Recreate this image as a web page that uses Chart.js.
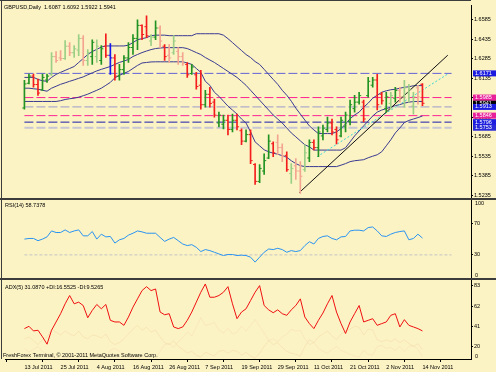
<!DOCTYPE html>
<html>
<head>
<meta charset="utf-8">
<script src="https://cdn.jsdelivr.net/npm/chart.js@4.4.1/dist/chart.umd.min.js"></script>
<style>
  html, body { margin: 0; padding: 0; background: #fbf3c4; }
  canvas { display: block; }
</style>
</head>
<body>
<canvas id="grafico" width="496" height="372"></canvas>
<script>
// GBPUSD diario, 13 Jul 2011 - 14 Nov 2011 (um valor por barra)
const abertura = [
  1.5905, 1.6095, 1.6150, 1.6085, 1.6045, 1.6120, 1.6160, 1.6300, 1.6290, 1.6285,
  1.6380, 1.6330, 1.6350, 1.6440, 1.6270, 1.6300, 1.6300, 1.6270, 1.6380, 1.6310,
  1.6290, 1.6150, 1.6200, 1.6290, 1.6370, 1.6440, 1.6540, 1.6530, 1.6420, 1.6450,
  1.6520, 1.6380, 1.6310, 1.6330, 1.6340, 1.6300, 1.6240, 1.6170, 1.6160, 1.6080,
  1.5930, 1.6010, 1.5950, 1.5790, 1.5780, 1.5810, 1.5740, 1.5810, 1.5730, 1.5650,
  1.5700, 1.5470, 1.5340, 1.5420, 1.5520, 1.5630, 1.5640, 1.5600, 1.5540, 1.5400,
  1.5460, 1.5420, 1.5430, 1.5520, 1.5640, 1.5600, 1.5690, 1.5740, 1.5790, 1.5740,
  1.5690, 1.5760, 1.5800, 1.5900, 1.5950, 1.5950, 1.6000, 1.6080, 1.6120, 1.6010,
  1.5900, 1.5940, 1.5980, 1.6040, 1.5990, 1.6020, 1.5920, 1.6060, 1.6087
]
const maxima = [
  1.6118, 1.6166, 1.6166, 1.6127, 1.6166, 1.6166, 1.6331, 1.6339, 1.6347, 1.6423,
  1.6408, 1.6385, 1.6469, 1.6461, 1.6354, 1.6430, 1.6430, 1.6385, 1.6476, 1.6400,
  1.6316, 1.6240, 1.6308, 1.6408, 1.6469, 1.6583, 1.6545, 1.6614, 1.6469, 1.6575,
  1.6537, 1.6392, 1.6392, 1.6461, 1.6369, 1.6331, 1.6255, 1.6240, 1.6179, 1.6194,
  1.6041, 1.6064, 1.5973, 1.5873, 1.5851, 1.5851, 1.5858, 1.5858, 1.5744, 1.5736,
  1.5736, 1.5477, 1.5470, 1.5553, 1.5698, 1.5644, 1.5698, 1.5629, 1.5568, 1.5477,
  1.5515, 1.5492, 1.5622, 1.5660, 1.5660, 1.5759, 1.5774, 1.5835, 1.5820, 1.5759,
  1.5835, 1.5873, 1.5965, 1.6003, 1.6026, 1.5965, 1.6140, 1.6140, 1.6163, 1.6026,
  1.6026, 1.6026, 1.6064, 1.6064, 1.6118, 1.6087, 1.6026, 1.6079, 1.6092
]
const minima = [
  1.5896, 1.6089, 1.6064, 1.6001, 1.6039, 1.6102, 1.6156, 1.6255, 1.6270, 1.6278,
  1.6308, 1.6293, 1.6308, 1.6232, 1.6232, 1.6240, 1.6255, 1.6240, 1.6293, 1.6163,
  1.6118, 1.6118, 1.6163, 1.6255, 1.6316, 1.6354, 1.6430, 1.6446, 1.6385, 1.6430,
  1.6369, 1.6270, 1.6255, 1.6316, 1.6240, 1.6232, 1.6140, 1.6163, 1.6049, 1.5896,
  1.5911, 1.5911, 1.5835, 1.5759, 1.5744, 1.5698, 1.5721, 1.5736, 1.5622, 1.5644,
  1.5477, 1.5317, 1.5330, 1.5393, 1.5515, 1.5530, 1.5545, 1.5492, 1.5416, 1.5324,
  1.5355, 1.5248, 1.5416, 1.5492, 1.5583, 1.5530, 1.5660, 1.5721, 1.5698, 1.5629,
  1.5683, 1.5721, 1.5774, 1.5873, 1.5934, 1.5797, 1.5988, 1.6064, 1.5889, 1.5934,
  1.5873, 1.5896, 1.5950, 1.5950, 1.5911, 1.5950, 1.5858, 1.5934, 1.5922
]
const fechamento = [
  1.6090, 1.6150, 1.6085, 1.6020, 1.6140, 1.6150, 1.6300, 1.6270, 1.6285, 1.6380,
  1.6330, 1.6360, 1.6440, 1.6270, 1.6330, 1.6410, 1.6380, 1.6360, 1.6310, 1.6290,
  1.6150, 1.6200, 1.6290, 1.6370, 1.6440, 1.6540, 1.6470, 1.6460, 1.6450, 1.6520,
  1.6420, 1.6300, 1.6290, 1.6420, 1.6300, 1.6250, 1.6160, 1.6220, 1.6070, 1.5930,
  1.6010, 1.5940, 1.5850, 1.5850, 1.5810, 1.5740, 1.5810, 1.5760, 1.5650, 1.5700,
  1.5500, 1.5340, 1.5440, 1.5500, 1.5650, 1.5560, 1.5600, 1.5530, 1.5430, 1.5440,
  1.5420, 1.5380, 1.5560, 1.5640, 1.5600, 1.5720, 1.5750, 1.5790, 1.5720, 1.5660,
  1.5810, 1.5850, 1.5930, 1.5950, 1.6000, 1.5820, 1.6110, 1.6120, 1.5930, 1.5960,
  1.5990, 1.6000, 1.6040, 1.5990, 1.6060, 1.6050, 1.5990, 1.5990, 1.5941
]
// G verde, R vermelho, g verde claro, r vermelho claro, B azul
const tipo_barra = ('GGRRGGgrrg' + 'rggrgGgGRB' + 'RGGGGGRRgG' + 'rRrgrrRGRR' + 'GRRGGRGRRG' +
                    'RRGGGRrrRg' + 'rrgGRGGGRR' + 'GGGGGRGGRR' + 'GgGrgggrR').split('')

// as tres linhas azul-marinho do painel de preco
const faixa_a = [
  1.6140, 1.6140, 1.6140, 1.6125, 1.6114, 1.6110, 1.6140, 1.6163, 1.6179, 1.6194,
  1.6209, 1.6224, 1.6255, 1.6285, 1.6316, 1.6339, 1.6356, 1.6373, 1.6382, 1.6382,
  1.6382, 1.6382, 1.6382, 1.6388, 1.6408, 1.6430, 1.6438, 1.6446, 1.6461, 1.6465,
  1.6465, 1.6465, 1.6461, 1.6461, 1.6461, 1.6461, 1.6461, 1.6461, 1.6476, 1.6476,
  1.6476, 1.6476, 1.6476, 1.6476, 1.6465, 1.6438, 1.6408, 1.6377, 1.6347, 1.6316,
  1.6293, 1.6262, 1.6240, 1.6202, 1.6163, 1.6125, 1.6087, 1.6041, 1.6003, 1.5957,
  1.5904, 1.5858, 1.5812, 1.5767, 1.5736, 1.5708, 1.5708, 1.5708, 1.5708, 1.5721,
  1.5746, 1.5782, 1.5822, 1.5851, 1.5873, 1.5911, 1.5942, 1.5980, 1.6003, 1.6026,
  1.6037, 1.6045, 1.6049, 1.6057, 1.6064, 1.6068, 1.6076, 1.6077, 1.6077
]
const faixa_b = [
  1.6057, 1.6057, 1.6053, 1.6049, 1.6041, 1.6034, 1.6057, 1.6072, 1.6087, 1.6098,
  1.6110, 1.6121, 1.6133, 1.6144, 1.6160, 1.6175, 1.6190, 1.6202, 1.6213, 1.6224,
  1.6240, 1.6255, 1.6266, 1.6278, 1.6301, 1.6316, 1.6331, 1.6343, 1.6354, 1.6362,
  1.6366, 1.6369, 1.6369, 1.6369, 1.6369, 1.6369, 1.6362, 1.6347, 1.6331, 1.6316,
  1.6293, 1.6274, 1.6255, 1.6232, 1.6209, 1.6186, 1.6163, 1.6140, 1.6110, 1.6079,
  1.6041, 1.6003, 1.5965, 1.5927, 1.5889, 1.5851, 1.5820, 1.5789, 1.5751, 1.5713,
  1.5683, 1.5652, 1.5622, 1.5606, 1.5581, 1.5581, 1.5581, 1.5581, 1.5581, 1.5581,
  1.5581, 1.5599, 1.5644, 1.5690, 1.5728, 1.5767, 1.5805, 1.5843, 1.5873, 1.5889,
  1.5900, 1.5911, 1.5923, 1.5931, 1.5942, 1.5950, 1.5954, 1.5955, 1.5955
]
const faixa_c = [
  1.5955, 1.5955, 1.5955, 1.5955, 1.5955, 1.5955, 1.5955, 1.5955, 1.5961, 1.5970,
  1.5976, 1.5980, 1.5988, 1.5999, 1.6011, 1.6026, 1.6041, 1.6057, 1.6079, 1.6102,
  1.6137, 1.6156, 1.6171, 1.6186, 1.6209, 1.6232, 1.6251, 1.6255, 1.6259, 1.6260,
  1.6260, 1.6260, 1.6260, 1.6260, 1.6260, 1.6260, 1.6251, 1.6240, 1.6209, 1.6179,
  1.6110, 1.6079, 1.6026, 1.5995, 1.5957, 1.5919, 1.5889, 1.5858, 1.5820, 1.5789,
  1.5721, 1.5644, 1.5614, 1.5583, 1.5568, 1.5557, 1.5549, 1.5538, 1.5526, 1.5499,
  1.5477, 1.5461, 1.5454, 1.5454, 1.5454, 1.5454, 1.5454, 1.5454, 1.5454, 1.5454,
  1.5465, 1.5477, 1.5492, 1.5499, 1.5503, 1.5507, 1.5522, 1.5534, 1.5545, 1.5568,
  1.5614, 1.5660, 1.5713, 1.5751, 1.5793, 1.5809, 1.5820, 1.5831, 1.5843
]

// linhas desenhadas a mao
const niveis = [1.6171, 1.5985, 1.5913, 1.5846, 1.5796, 1.5753]
const tendencia_x = [60.8, 93.6]
const tendencia_y = [1.5255, 1.6311]
const canal_x = [64.7, 93.6]
const canal_y = [1.5530, 1.6166]

const rsi = [
  49.9, 50.7, 50.7, 47.9, 49.9, 52.7, 60.2, 58.2, 58.2, 61.5,
  58.2, 60.2, 61.5, 54.0, 54.0, 59.4, 49.9, 56.1, 52.7, 53.2,
  44.9, 49.0, 50.7, 54.9, 57.3, 60.2, 59.0, 57.3, 57.3, 57.3,
  52.0, 47.0, 49.9, 52.0, 47.9, 43.7, 41.7, 42.9, 39.6, 34.2,
  36.7, 35.4, 33.3, 31.2, 29.2, 30.5, 30.5, 29.2, 29.6, 29.2,
  27.1, 20.9, 27.1, 33.3, 37.4, 36.7, 38.3, 36.7, 33.3, 35.4,
  34.2, 35.4, 41.7, 46.6, 43.7, 50.7, 53.2, 54.0, 50.7, 49.0,
  52.7, 53.2, 60.2, 61.1, 61.1, 60.2, 64.4, 65.2, 60.2, 54.0,
  53.2, 56.1, 58.2, 59.4, 60.2, 49.0, 50.7, 56.1, 51.2
]
const niveis_rsi = [30]

const adx = [
  38.6, 41.0, 36.2, 36.9, 30.0, 22.4, 36.9, 45.5, 54.1, 64.4,
  73.0, 64.4, 66.1, 62.6, 49.9, 57.5, 63.7, 59.2, 63.7, 47.2,
  45.5, 45.5, 42.0, 50.6, 60.9, 69.5, 78.1, 82.2, 78.1, 79.8,
  55.8, 53.0, 54.1, 40.3, 38.6, 40.3, 47.2, 55.8, 66.1, 76.4,
  85.0, 71.2, 71.2, 73.0, 76.4, 82.2, 64.4, 48.9, 55.8, 59.2,
  67.8, 76.4, 83.3, 62.6, 58.1, 55.1, 58.1, 54.1, 52.4, 58.1,
  62.6, 69.5, 50.6, 43.8, 38.6, 47.2, 54.8, 64.4, 73.0, 55.8,
  43.8, 33.5, 45.5, 54.1, 62.6, 45.5, 47.2, 48.9, 42.0, 43.8,
  45.5, 52.4, 54.1, 40.3, 47.9, 42.0, 40.3, 38.6, 36.2
]
const mais_di = [
  28, 30, 26, 22, 27, 30, 38, 35, 32, 36, 33, 31, 36, 30, 28, 32, 31, 29, 33, 25,
  22, 24, 28, 33, 38, 42, 37, 40, 35, 37, 30, 24, 22, 26, 20, 17, 13, 15, 11, 9,
  14, 12, 10, 15, 16, 13, 16, 15, 11, 14, 10, 8, 13, 20, 26, 22, 24, 19, 15, 13,
  12, 10, 20, 27, 24, 30, 33, 36, 31, 27, 33, 36, 38, 41, 40, 32, 38, 37, 27, 25,
  27, 25, 28, 24, 27, 23, 20, 23, 16.6
]
const menos_di = [
  18, 14, 17, 20, 15, 12, 9, 8, 10, 8, 9, 11, 8, 12, 13, 10, 11, 12, 9, 16,
  18, 15, 12, 10, 8, 6, 10, 9, 11, 8, 15, 22, 23, 19, 25, 29, 35, 31, 40, 50,
  42, 43, 45, 37, 34, 39, 33, 35, 41, 36, 42, 48, 41, 34, 26, 28, 25, 30, 33, 38,
  36, 37, 28, 22, 24, 18, 15, 13, 17, 20, 16, 14, 12, 10, 9, 16, 12, 11, 20, 21,
  18, 19, 16, 20, 15, 20, 21, 17, 9.5
]

const idx_datas = [0, 8, 16, 24, 32, 40, 48, 56, 64, 72, 80, 88]
const rotulos_datas = ['13 Jul 2011', '25 Jul 2011', '4 Aug 2011', '16 Aug 2011', '26 Aug 2011', '7 Sep 2011',
                       '19 Sep 2011', '29 Sep 2011', '11 Oct 2011', '21 Oct 2011', '2 Nov 2011', '14 Nov 2011']
const ticks_preco = [1.5235, 1.5385, 1.5535, 1.5685, 1.5835, 1.5985, 1.6135, 1.6285, 1.6435, 1.6585]
const ticks_rsi = [30, 70]
const ticks_adx = [20, 41, 62, 83]

// ---- estilo ----
const x_min = 0
const x_max = 94.44
const fonte = { family: '"Liberation Sans", Arial, sans-serif', size: 5.5 }
const fonte_css = '5.5px "Liberation Sans", Arial, sans-serif'
const cor_de = { G: '#229322', R: '#f41c1c', g: '#9ccf86', r: '#f3a592', B: '#1616f0' }
const cores = tipo_barra.map(t => cor_de[t])
const cores_niveis = ['#6262d6', '#ff2496', '#9a9acc', '#ff2496', '#1c1cac', '#c6c6d4']
const largura_niveis = [1, 1, 1, 1, 1, 2]
const caixas_niveis = ['#1c1ce0', '#e8209a', '#1c1ce0', '#e8209a', '#1c1ce0', '#2a2ad8']

const pontos = (arr, dx) => arr.map((v, i) => ({ x: i + (dx || 0), y: v }))
const horizontal = (v) => [{ x: x_min, y: v }, { x: x_max, y: v }]

let datasets = []

niveis.forEach((v, k) => {
  datasets.push({
    type: 'line', data: horizontal(v), yAxisID: 'y',
    borderColor: cores_niveis[k], borderWidth: largura_niveis[k], borderDash: [9, 3],
    pointRadius: 0, order: 20
  })
})

;[faixa_a, faixa_b, faixa_c].forEach(f => {
  datasets.push({
    type: 'line', data: pontos(f), yAxisID: 'y',
    borderColor: '#3a3a92', borderWidth: 1, pointRadius: 0, tension: 0, order: 10
  })
})

datasets.push({
  type: 'line', data: tendencia_x.map((x, k) => ({ x: x, y: tendencia_y[k] })), yAxisID: 'y',
  borderColor: '#111', borderWidth: 1, pointRadius: 0, order: 9
})
datasets.push({
  type: 'line', data: canal_x.map((x, k) => ({ x: x, y: canal_y[k] })), yAxisID: 'y',
  borderColor: '#3cd6d6', borderWidth: 1, borderDash: [2, 2], pointRadius: 0, order: 9
})

// barras OHLC: haste maxima-minima + tracinho de abertura (esq.) e fechamento (dir.)
datasets.push({
  type: 'bar', data: maxima.map((h, i) => ({ x: i, y: [minima[i], h] })), yAxisID: 'y',
  backgroundColor: cores, barThickness: 1, order: 2
})
datasets.push({
  type: 'line', data: pontos(abertura, -0.22), yAxisID: 'y', showLine: false,
  pointStyle: 'line', pointRadius: 1.1, pointBorderWidth: 1, pointBorderColor: cores, order: 1
})
datasets.push({
  type: 'line', data: pontos(fechamento, 0.22), yAxisID: 'y', showLine: false,
  pointStyle: 'line', pointRadius: 1.1, pointBorderWidth: 1, pointBorderColor: cores, order: 1
})

// RSI
niveis_rsi.forEach(v => {
  datasets.push({
    type: 'line', data: horizontal(v), yAxisID: 'yR',
    borderColor: '#c4c4c4', borderWidth: 1, borderDash: [3, 2], pointRadius: 0, order: 5
  })
})
datasets.push({
  type: 'line', data: pontos(rsi), yAxisID: 'yR',
  borderColor: '#2b94f2', borderWidth: 1, pointRadius: 0, order: 3
})

// ADX
datasets.push({
  type: 'line', data: pontos(mais_di), yAxisID: 'yA',
  borderColor: 'rgba(240,175,130,0.2)', borderWidth: 1, pointRadius: 0, order: 6
})
datasets.push({
  type: 'line', data: pontos(menos_di), yAxisID: 'yA',
  borderColor: 'rgba(245,190,160,0.2)', borderWidth: 1, pointRadius: 0, order: 6
})
datasets.push({
  type: 'line', data: pontos(adx), yAxisID: 'yA',
  borderColor: '#f01010', borderWidth: 1, pointRadius: 0, order: 3
})

const ultimo = fechamento.length - 1
const titulo = 'GBPUSD,Daily  ' + [abertura[ultimo], maxima[ultimo], minima[ultimo], fechamento[ultimo]]
  .map(v => v.toFixed(4)).join(' ')
const rotulo_rsi = 'RSI(14) 58.7378'
const rotulo_adx = 'ADX(5) 31.0870 +DI:16.5525 -DI:9.5265'
const copyright = 'FreshForex Terminal, \u00a9 2001-2011 MetaQuotes Software Corp.'

const moldura = {
  id: 'moldura',
  beforeDraw(chart) {
    const ctx = chart.ctx
    ctx.save()
    ctx.fillStyle = '#fbf3c4'
    ctx.fillRect(0, 0, chart.width, chart.height)
    ctx.restore()
  },
  afterDraw(chart) {
    const ctx = chart.ctx
    const area = chart.chartArea
    const y = chart.scales.y
    const yR = chart.scales.yR
    const yA = chart.scales.yA
    ctx.save()

    ctx.fillStyle = '#3c3c3c'
    ctx.fillRect(0, 0, area.right, 1)
    ctx.fillRect(1, 0, 1, area.bottom)
    ctx.fillRect(0, Math.round(yR.top) - 1, chart.width, 2)
    ctx.fillRect(0, Math.round(yA.top) - 1, chart.width, 2)

    ctx.font = fonte_css
    ctx.textBaseline = 'middle'
    ctx.fillStyle = '#000'
    ctx.fillText(titulo, 4, 7)
    ctx.fillText(rotulo_rsi, 5, yR.top + 6)
    ctx.fillText(rotulo_adx, 5, yA.top + 9)
    ctx.fillText(copyright, 3, area.bottom - 4)

    // rotulos das pontas das escalas dos sub-paineis
    ctx.fillText('100', area.right + 4, yR.getPixelForValue(100) + 4.5)
    ctx.fillText('0', area.right + 4, yR.getPixelForValue(0) - 3.5)
    ctx.fillText('0', area.right + 4, yA.bottom - 2.5)

    // caixas de preco na escala
    const caixa = (valor, cor) => {
      const py = y.getPixelForValue(valor)
      ctx.fillStyle = cor
      ctx.fillRect(area.right + 2, py - 3, chart.width - area.right - 2, 6)
      ctx.fillStyle = '#fff'
      ctx.fillText(valor.toFixed(4), area.right + 4, py)
    }
    caixa(fechamento[ultimo], '#000')
    niveis.forEach((v, k) => caixa(v, caixas_niveis[k]))

    ctx.restore()
  }
}

const escala_direita = (extra) => Object.assign({
  position: 'right',
  stack: 'paineis',
  grid: { drawOnChartArea: false, drawTicks: true, tickLength: 2, color: '#000' },
  border: { color: '#000' },
  ticks: { font: fonte, color: '#000', padding: 1, autoSkip: false },
  afterFit: (s) => { s.width = 25; s.paddingTop = 0; s.paddingBottom = 0 }
}, extra)

const ctx = document.getElementById('grafico').getContext('2d')
const myChart = new Chart(ctx, {
  type: 'bar',
  data: { datasets: datasets },
  options: {
    responsive: false,
    animation: false,
    devicePixelRatio: 1,
    layout: { padding: { top: 2, left: 2, right: 0, bottom: 0 } },
    plugins: { legend: { display: false }, tooltip: { enabled: false } },
    scales: {
      x: {
        type: 'linear', min: x_min, max: x_max,
        afterBuildTicks: (s) => { s.ticks = idx_datas.map(v => ({ value: v })) },
        ticks: {
          font: fonte, color: '#000', align: 'start', padding: 2, maxRotation: 0, autoSkip: false,
          callback: (v, i) => rotulos_datas[i]
        },
        grid: { drawOnChartArea: false, drawTicks: true, tickLength: 3, color: '#000' },
        border: { color: '#000' },
        afterFit: (s) => { s.height = 13; s.paddingLeft = 0; s.paddingRight = 0 }
      },
      y: escala_direita({
        stackWeight: 196, min: 1.5202, max: 1.6697,
        afterBuildTicks: (s) => { s.ticks = ticks_preco.map(v => ({ value: v })) },
        ticks: { font: fonte, color: '#000', padding: 1, autoSkip: false, callback: v => v.toFixed(4) }
      }),
      yR: escala_direita({
        stackWeight: 80, min: 0, max: 100,
        afterBuildTicks: (s) => { s.ticks = ticks_rsi.map(v => ({ value: v })) },
        ticks: { font: fonte, color: '#000', padding: 1, autoSkip: false, callback: v => String(v) }
      }),
      yA: escala_direita({
        stackWeight: 81, min: 7, max: 90.5,
        afterBuildTicks: (s) => { s.ticks = ticks_adx.map(v => ({ value: v })) },
        ticks: { font: fonte, color: '#000', padding: 1, autoSkip: false, callback: v => String(v) }
      })
    }
  },
  plugins: [moldura]
})
</script>
</body>
</html>
